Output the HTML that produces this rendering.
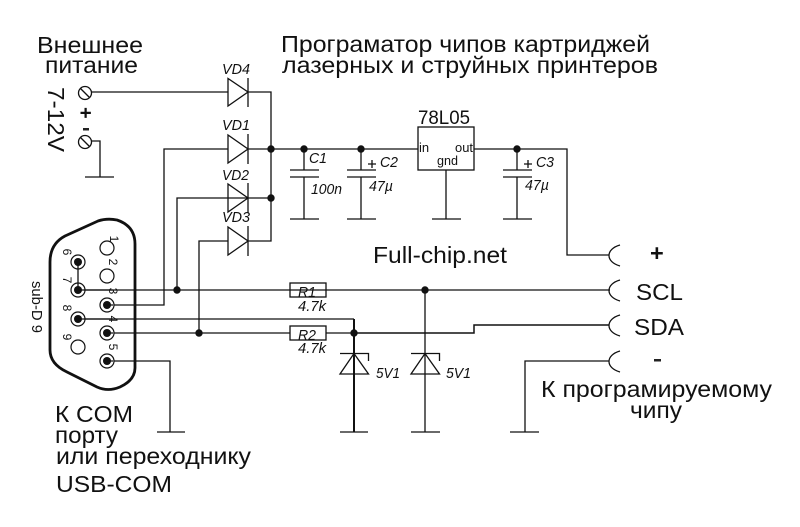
<!DOCTYPE html>
<html>
<head>
<meta charset="utf-8">
<style>
html,body{margin:0;padding:0;background:#fff;}
svg{display:block;}
text{font-family:"Liberation Sans","DejaVu Sans",sans-serif;fill:#111;}
.l{fill:none;stroke:#111;stroke-width:1.3;}
.t{font-size:23.500px;}
.i{font-style:italic;font-size:14.500px;}
.n{font-size:12px;text-anchor:middle;}
.s{font-size:13px;}
</style>
</head>
<body>
<svg width="800" height="527" viewBox="0 0 800 527" xmlns="http://www.w3.org/2000/svg">
<rect width="800" height="527" fill="#fff"/>

<!-- Titles -->
<text class="t" x="281" y="52" textLength="369" lengthAdjust="spacingAndGlyphs">Програматор чипов картриджей</text>
<text class="t" x="282" y="73" textLength="376" lengthAdjust="spacingAndGlyphs">лазерных и струйных принтеров</text>
<text class="t" x="37" y="53" textLength="106" lengthAdjust="spacingAndGlyphs">Внешнее</text>
<text class="t" x="45" y="73" textLength="93" lengthAdjust="spacingAndGlyphs">питание</text>
<text class="t" transform="translate(48,87) rotate(90)" textLength="65" lengthAdjust="spacingAndGlyphs">7-12V</text>
<text transform="translate(79,107) rotate(90)" style="font-size:20px;font-weight:bold" >+</text>
<rect x="83" y="128" width="6" height="2.500" fill="#222"/>
<text class="t" x="373" y="263" textLength="134" lengthAdjust="spacingAndGlyphs">Full-chip.net</text>
<text class="t" x="650" y="261" style="font-weight:bold">+</text>
<text class="t" x="636" y="300" textLength="47" lengthAdjust="spacingAndGlyphs">SCL</text>
<text class="t" x="634" y="335" textLength="50" lengthAdjust="spacingAndGlyphs">SDA</text>
<rect x="654" y="359" width="7" height="2.500" fill="#222"/>
<text class="t" x="541" y="397" textLength="231" lengthAdjust="spacingAndGlyphs">К програмируемому</text>
<text class="t" x="630" y="418" textLength="52" lengthAdjust="spacingAndGlyphs">чипу</text>
<text class="t" x="55" y="422" textLength="78" lengthAdjust="spacingAndGlyphs">К COM</text>
<text class="t" x="55" y="443" textLength="63" lengthAdjust="spacingAndGlyphs">порту</text>
<text class="t" x="56" y="464" textLength="195" lengthAdjust="spacingAndGlyphs">или переходнику</text>
<text class="t" x="56" y="492" textLength="116" lengthAdjust="spacingAndGlyphs">USB-COM</text>

<!-- Terminals -->
<circle class="l" cx="85" cy="93" r="6.500"/><path class="l" d="M80.500,88.500L89.500,97.500"/>
<circle class="l" cx="85" cy="142" r="6.500"/><path class="l" d="M80.500,137.500L89.500,146.500"/>
<path class="l" d="M91.500,92H228M248,92H271V241H248"/>
<path class="l" d="M91,141H100V177M85,177H114"/>

<!-- Diodes -->
<path class="l" d="M228,78.500V106L248,92ZM248,78V107"/>
<path class="l" d="M228,135V163L248,149ZM248,134V164"/>
<path class="l" d="M228,184V212L248,198ZM248,183V213"/>
<path class="l" d="M228,227V255L248,241ZM248,226V256"/>
<text class="i" x="222" y="74" textLength="28" lengthAdjust="spacingAndGlyphs">VD4</text>
<text class="i" x="222" y="130" textLength="28" lengthAdjust="spacingAndGlyphs">VD1</text>
<text class="i" x="222" y="180" textLength="27" lengthAdjust="spacingAndGlyphs">VD2</text>
<text class="i" x="222" y="222" textLength="28" lengthAdjust="spacingAndGlyphs">VD3</text>

<!-- Main wires -->
<path class="l" d="M113,305H164V149H228M248,149H418"/>
<path class="l" d="M85,290H610"/>
<path class="l" d="M177,290V198H248M248,198H271"/>
<path class="l" d="M113,333H290M326,333H354"/>
<path class="l" d="M199,333V241H228"/>
<path class="l" d="M85,319H354"/>
<path class="l" d="M113,361H170V432M157,432H185"/>
<path class="l" d="M474,149H567V255H609"/>
<path class="l" d="M354,333H474V325H609" style="stroke-width:1.500"/>
<path class="l" d="M609,361H525V432M510,432H539"/>
<path class="l" d="M354,319V432" style="stroke-width:2"/>
<path class="l" d="M425,290V432"/>
<path class="l" d="M340,432H368M411,432H440"/>

<!-- Dots -->
<g fill="#111">
<circle cx="271" cy="149" r="3.700"/>
<circle cx="271" cy="198" r="3.700"/>
<circle cx="304" cy="149" r="3.700"/>
<circle cx="361" cy="149" r="3.700"/>
<circle cx="517" cy="149" r="3.700"/>
<circle cx="177" cy="290" r="3.700"/>
<circle cx="199" cy="333" r="3.700"/>
<circle cx="425" cy="290" r="3.700"/>
<circle cx="354" cy="333" r="3.700"/>
</g>

<!-- Caps -->
<path class="l" d="M304,149V170M304,177V219M290,170H319M290,177H319M290,219H319"/>
<path class="l" d="M361,149V170M361,177V219M347,170H376M347,177H376M347,219H376"/>
<path class="l" d="M517,149V170M517,177V219M503,170H532M503,177H532M503,219H532"/>
<path class="l" d="M368,164H376M372,160V168M524,164H532M528,160V168"/>
<text class="i" x="309" y="163" textLength="18" lengthAdjust="spacingAndGlyphs">C1</text>
<text class="i" x="311" y="194" textLength="31" lengthAdjust="spacingAndGlyphs">100n</text>
<text class="i" x="380" y="167" textLength="18" lengthAdjust="spacingAndGlyphs">C2</text>
<text class="i" x="369" y="191" textLength="24" lengthAdjust="spacingAndGlyphs">47µ</text>
<text class="i" x="536" y="167" textLength="18" lengthAdjust="spacingAndGlyphs">C3</text>
<text class="i" x="525" y="190" textLength="24" lengthAdjust="spacingAndGlyphs">47µ</text>

<!-- Regulator -->
<rect class="l" x="418" y="127" width="56" height="43" fill="#fff"/>
<path class="l" d="M446,170V219M432,219H461"/>
<text x="418" y="124" style="font-size:19px" textLength="52" lengthAdjust="spacingAndGlyphs">78L05</text>
<text class="s" x="419" y="152">in</text>
<text class="s" x="455" y="152" textLength="18" lengthAdjust="spacingAndGlyphs">out</text>
<text class="s" x="437" y="165" textLength="21" lengthAdjust="spacingAndGlyphs">gnd</text>

<!-- Resistors -->
<rect class="l" x="290" y="283" width="36" height="14" fill="#fff"/>
<rect class="l" x="290" y="326" width="36" height="14" fill="#fff"/>
<text class="i" x="298" y="297" textLength="18" lengthAdjust="spacingAndGlyphs">R1</text>
<text class="i" x="298" y="340" textLength="18" lengthAdjust="spacingAndGlyphs">R2</text>
<text class="i" x="298" y="311" textLength="28" lengthAdjust="spacingAndGlyphs">4.7k</text>
<text class="i" x="298" y="353" textLength="28" lengthAdjust="spacingAndGlyphs">4.7k</text>

<!-- Zeners -->
<path class="l" d="M340,353.500H368.500V361M340,374H368.500L354,353.500Z"/>
<path class="l" d="M411,353.500H439.500V361M411,374H439.500L425,353.500Z"/>
<text class="i" x="376" y="378" textLength="24" lengthAdjust="spacingAndGlyphs">5V1</text>
<text class="i" x="446" y="378" textLength="25" lengthAdjust="spacingAndGlyphs">5V1</text>

<!-- Connectors on right -->
<path class="l" d="M620,245C613,247 609,251 609,255.500C609,260 613,264 620,266"/>
<path class="l" d="M620,280C613,282 609,286 609,290.500C609,295 613,299 620,301"/>
<path class="l" d="M620,315C613,317 609,321 609,325.500C609,330 613,334 620,336"/>
<path class="l" d="M620,351C613,353 609,357 609,361.500C609,366 613,370 620,372"/>

<!-- Sub-D 9 -->
<path d="M65,236L98,221Q107,218 117,220Q135,226 135,244V368Q135,380 120,387Q108,392 97,387L67,372Q50,364 50,350V262Q50,244 65,236Z" fill="none" stroke="#111" stroke-width="2.800"/>
<g fill="#fff" stroke="#111" stroke-width="1.200">
<circle cx="107" cy="248" r="7"/>
<circle cx="107" cy="276" r="7"/>
<circle cx="107" cy="305" r="7"/>
<circle cx="107" cy="333" r="7"/>
<circle cx="107" cy="361" r="7"/>
<circle cx="78" cy="262" r="7"/>
<circle cx="78" cy="290" r="7"/>
<circle cx="78" cy="319" r="7"/>
<circle cx="78" cy="347" r="7"/>
</g>
<g fill="#111">
<circle cx="107" cy="305" r="4"/>
<circle cx="107" cy="333" r="4"/>
<circle cx="107" cy="361" r="4"/>
<circle cx="78" cy="262" r="4"/>
<circle cx="78" cy="290" r="4"/>
<circle cx="78" cy="319" r="4"/>
</g>
<path class="l" d="M78,262V290"/>
<path class="l" d="M78,290H113M78,319H113M107,305H113M107,333H113M107,361H113"/>
<text class="n" transform="translate(110,239) rotate(90)">1</text>
<text class="n" transform="translate(109,262) rotate(90)">2</text>
<text class="n" transform="translate(109,291) rotate(90)">3</text>
<text class="n" transform="translate(109,319) rotate(90)">4</text>
<text class="n" transform="translate(109,347) rotate(90)">5</text>
<text class="n" transform="translate(63,252) rotate(90)">6</text>
<text class="n" transform="translate(63,280) rotate(90)">7</text>
<text class="n" transform="translate(63,308) rotate(90)">8</text>
<text class="n" transform="translate(63,337) rotate(90)">9</text>
<text transform="translate(32,281) rotate(90)" style="font-size:15px" textLength="52" lengthAdjust="spacingAndGlyphs">sub-D 9</text>
</svg>
</body>
</html>
